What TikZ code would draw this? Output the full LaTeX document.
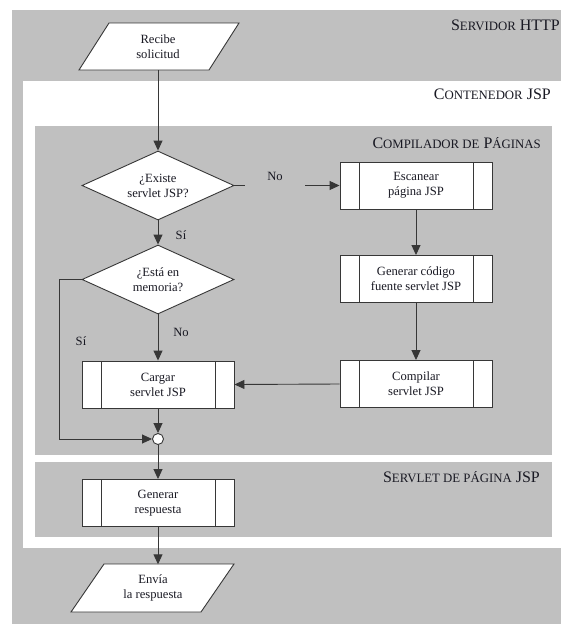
\documentclass[tikz,border=0pt]{standalone}
\usepackage{fontspec}
\setmainfont{Liberation Serif}
\usetikzlibrary{shapes.geometric,arrows.meta,calc}
\definecolor{panel}{RGB}{192,192,192}
\definecolor{edge}{RGB}{55,55,55}
\definecolor{ink}{RGB}{25,25,35}
% small capitals built from two sizes of capitals
\newcommand{\scfake}[1]{{\fontsize{12.8}{14}\selectfont #1}}

\begin{document}
\begin{tikzpicture}[x=1pt,y=-1pt,
  font=\fontsize{12.6}{15}\selectfont, text=ink,
  plain/.style={draw=edge, line width=0.9pt},
  flow/.style={plain, -{Triangle[length=10pt,width=9pt]}},
  procbox/.style={draw=edge, fill=white, line width=0.9pt,
    minimum width=152pt, minimum height=47pt, align=center, inner sep=0pt,
    path picture={\draw[edge, line width=0.9pt]
      ([xshift=19pt]path picture bounding box.north west) --
      ([xshift=19pt]path picture bounding box.south west)
      ([xshift=-19pt]path picture bounding box.north east) --
      ([xshift=-19pt]path picture bounding box.south east);}},
  decision/.style={diamond, draw=edge, fill=white, line width=0.9pt, aspect=2,
    minimum width=152pt, minimum height=69pt, align=center, inner sep=0pt},
  io/.style={draw=none, minimum width=100pt, minimum height=47pt,
    align=center, inner sep=0pt},
  junction/.style={circle, draw=edge, fill=white, line width=0.9pt,
    minimum size=11pt, inner sep=0pt},
  title/.style={anchor=base east, inner sep=0pt, font=\fontsize{16}{18}\selectfont},
  lbl/.style={inner sep=0pt},
]
\useasboundingbox (0,0) rectangle (561,624);

% nested regions
\fill[white] (0,0) rectangle (561,624);
\fill[panel] (12,10) rectangle (561,624);
\fill[white] (23,81) rectangle (561,548);
\fill[panel] (35,126) rectangle (552,455);
\fill[panel] (35,462) rectangle (552,537);

% region titles
\node[title] (tserv) at (560,30.5) {S\scfake{ERVIDOR} HTTP};
\node[title] (tcont) at (551,99) {C\scfake{ONTENEDOR} JSP};
\node[title] (tcomp) at (541,148.5) {C\scfake{OMPILADOR DE} P\scfake{ÁGINAS}};
\node[title] (tsrv) at (540,482) {S\scfake{ERVLET DE PÁGINA} JSP};

% input / output parallelograms
\path[plain, fill=white] (79,70) -- (209,70) -- (239,23) -- (109,23) -- cycle;
\node[io] (recv) at (158,46.5) {Recibe\\solicitud};
\path[plain, fill=white] (71,612) -- (201,612) -- (234,564) -- (104,564) -- cycle;
\node[io] (send) at (153,588) {Envía\\la respuesta};

% decisions
\node[decision] (exists) at (158,185.5) {¿Existe\\servlet JSP?};
\node[decision] (inmem) at (158,279.5) {¿Está en\\memoria?};

% processes
\node[procbox] (scan) at (416,185.5) {Escanear\\página JSP};
\node[procbox] (gen) at (416,279) {Generar código\\fuente servlet JSP};
\node[procbox] (comp) at (416,384) {Compilar\\servlet JSP};
\node[procbox] (load) at (158,384.5) {Cargar\\servlet JSP};
\node[procbox] (resp) at (158,503) {Generar\\respuesta};
\node[junction] (join) at (158,439) {};

% branch labels
\node[lbl] (yes1) at (181,235) {Sí};
\node[lbl] (no1) at (275,176) {No};
\node[lbl] (no2) at (181,332) {No};
\node[lbl] (yes2) at (81,341) {Sí};

% connectors
\coordinate (gapL) at (245,185.5);
\coordinate (gapR) at (305,185.5);
\coordinate (bypass) at (59,439);
\draw[flow] (recv.south) -- (exists.north);
\draw[flow] (exists.south) -- (inmem.north);
\draw[plain] (exists.east) -- (gapL);
\draw[flow] (gapR) -- (scan.west);
\draw[flow] (scan.south) -- (gen.north);
\draw[flow] (gen.south) -- (comp.north);
\draw[flow] (comp.west) -- (load.east);
\draw[flow] (inmem.south) -- (load.north);
\draw[flow] (inmem.west) -| (bypass) -- (join.west);
\draw[flow] (load.south) -- (join.north);
\draw[flow] (join.south) -- (resp.north);
\draw[flow] (resp.south) -- (resp.south |- send.north);
\end{tikzpicture}
\end{document}
